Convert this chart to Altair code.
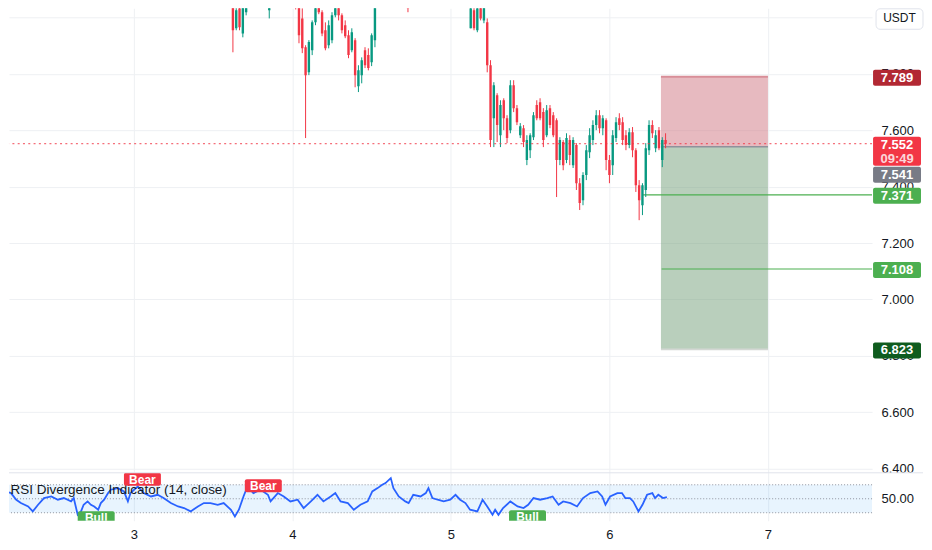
import json
import altair as alt
import pandas as pd

# ---------------- data ----------------
# 30-minute candles, time in hours after the start of day "3"
bar_hour = [15.0, 15.5, 16.0, 16.5, 17.0, 20.0, 20.5, 21.0, 24.5, 25.0, 25.5, 26.0, 26.5, 27.0, 27.5,
            28.0, 28.5, 29.0, 29.5, 30.0, 30.5, 31.0, 31.5, 32.0, 32.5, 33.0, 33.5, 34.0, 34.5, 35.0,
            35.5, 36.0, 36.5, 37.0, 37.5, 41.5, 42.0, 50.5, 51.0, 51.5, 52.0, 52.5, 53.0, 53.5, 54.0,
            54.5, 55.0, 55.5, 56.0, 56.5, 57.0, 57.5, 58.0, 58.5, 59.0, 59.5, 60.0, 60.5, 61.0, 61.5,
            62.0, 62.5, 63.0, 63.5, 64.0, 64.5, 65.0, 65.5, 66.0, 66.5, 67.0, 67.5, 68.0, 68.5, 69.0,
            69.5, 70.0, 70.5, 71.0, 71.5, 72.0, 72.5, 73.0, 73.5, 74.0, 74.5, 75.0, 75.5, 76.0, 76.5,
            77.0, 77.5, 78.0, 78.5, 79.0, 79.5, 80.0, 80.5]
bar_open = [8.096, 7.961, 8.032, 7.943, 8.018, 8.131, 8.025, 8.078, 8.078, 8.050, 7.996, 7.894, 7.805, 7.883, 7.982,
            8.060, 8.018, 7.954, 7.901, 7.919, 8.007, 8.067, 8.007, 7.972, 7.936, 7.883, 7.919, 7.756, 7.795, 7.883,
            7.866, 7.841, 7.919, 8.043, 8.131, 8.096, 8.043, 8.096, 7.961, 8.025, 7.954, 8.050, 7.989, 7.982, 7.830,
            7.642, 7.724, 7.582, 7.706, 7.642, 7.600, 7.759, 7.678, 7.582, 7.607, 7.494, 7.529, 7.575, 7.689, 7.699,
            7.664, 7.582, 7.678, 7.653, 7.635, 7.494, 7.558, 7.494, 7.565, 7.476, 7.547, 7.412, 7.352, 7.441, 7.522,
            7.565, 7.618, 7.653, 7.607, 7.635, 7.494, 7.476, 7.572, 7.642, 7.628, 7.582, 7.547, 7.593, 7.529, 7.405,
            7.334, 7.388, 7.529, 7.618, 7.536, 7.600, 7.494, 7.565]
bar_high = [8.131, 8.060, 8.043, 8.078, 8.113, 8.149, 8.131, 8.166, 8.096, 8.060, 8.032, 7.901, 7.919, 7.989, 8.078,
            8.078, 8.025, 7.982, 7.989, 8.018, 8.096, 8.078, 8.014, 7.989, 7.954, 7.961, 7.926, 7.830, 7.858, 7.894,
            7.890, 7.943, 8.078, 8.149, 8.149, 8.113, 8.131, 8.113, 8.060, 8.043, 8.043, 8.078, 8.071, 7.996, 7.848,
            7.770, 7.731, 7.706, 7.713, 7.653, 7.777, 7.777, 7.689, 7.625, 7.618, 7.582, 7.589, 7.664, 7.706, 7.713,
            7.678, 7.689, 7.689, 7.664, 7.642, 7.575, 7.565, 7.589, 7.582, 7.575, 7.554, 7.430, 7.451, 7.547, 7.607,
            7.635, 7.671, 7.671, 7.653, 7.642, 7.512, 7.600, 7.646, 7.660, 7.646, 7.600, 7.607, 7.611, 7.536, 7.423,
            7.412, 7.554, 7.635, 7.635, 7.600, 7.611, 7.575, 7.589]
bar_low = [7.876, 7.954, 7.954, 7.929, 8.007, 8.043, 7.996, 8.053, 8.028, 7.908, 7.873, 7.572, 7.795, 7.866, 7.972,
           8.011, 7.933, 7.883, 7.890, 7.908, 8.000, 7.989, 7.943, 7.926, 7.855, 7.876, 7.752, 7.735, 7.766, 7.820,
           7.812, 7.827, 7.894, 8.039, 8.043, 8.018, 8.035, 8.035, 7.961, 7.954, 7.947, 7.989, 7.979, 7.805, 7.540,
           7.540, 7.558, 7.540, 7.600, 7.554, 7.589, 7.664, 7.618, 7.572, 7.540, 7.476, 7.501, 7.565, 7.635, 7.635,
           7.540, 7.575, 7.607, 7.575, 7.363, 7.476, 7.458, 7.483, 7.476, 7.466, 7.388, 7.317, 7.334, 7.423, 7.501,
           7.547, 7.600, 7.589, 7.582, 7.458, 7.412, 7.441, 7.558, 7.600, 7.547, 7.529, 7.536, 7.504, 7.381, 7.281,
           7.299, 7.363, 7.512, 7.572, 7.522, 7.529, 7.469, 7.536]
bar_close = [7.954, 8.025, 7.965, 8.060, 8.096, 8.060, 8.113, 8.149, 8.039, 7.936, 7.890, 7.795, 7.912, 7.982, 8.053,
             8.018, 7.943, 7.890, 7.972, 8.007, 8.078, 8.007, 7.954, 7.933, 7.866, 7.947, 7.795, 7.812, 7.848, 7.830,
             7.820, 7.936, 8.053, 8.131, 8.078, 8.032, 8.113, 8.043, 8.032, 7.961, 8.032, 7.996, 8.050, 7.830, 7.565,
             7.759, 7.618, 7.689, 7.642, 7.572, 7.759, 7.678, 7.628, 7.614, 7.558, 7.565, 7.582, 7.653, 7.642, 7.642,
             7.565, 7.671, 7.618, 7.582, 7.494, 7.565, 7.476, 7.572, 7.512, 7.565, 7.412, 7.342, 7.441, 7.529, 7.582,
             7.618, 7.653, 7.607, 7.642, 7.494, 7.441, 7.582, 7.628, 7.618, 7.565, 7.547, 7.593, 7.529, 7.405, 7.352,
             7.405, 7.536, 7.618, 7.589, 7.582, 7.536, 7.565, 7.552]

rsi_hour = [-20.1, -18.6, -17.8, -17.1, -16.0, -15.3, -14.5, -13.6, -12.5, -11.5, -10.6, -9.5, -9.1, -8.5, -8.0,
            -7.6, -7.0, -6.5, -6.0, -5.4, -5.0, -4.5, -3.9, -3.5, -2.4, -1.5, -0.9, -0.5, 0.6, 1.5,
            2.6, 3.6, 4.5, 5.6, 6.7, 7.6, 8.6, 9.7, 10.6, 11.6, 12.7, 13.6, 14.7, 15.3, 15.9,
            16.6, 17.2, 18.1, 19.2, 20.3, 20.7, 21.8, 22.7, 23.7, 24.8, 25.7, 26.8, 27.8, 28.7, 29.8,
            30.5, 31.3, 32.4, 33.3, 34.3, 35.4, 36.1, 36.9, 37.6, 38.1, 38.9, 39.3, 40.1, 41.1, 41.6,
            42.3, 43.4, 44.2, 44.6, 45.2, 46.0, 46.9, 47.9, 48.7, 49.4, 50.2, 50.9, 52.0, 52.8, 53.5,
            54.3, 54.7, 55.2, 55.9, 57.0, 58.1, 59.0, 59.7, 60.5, 61.5, 62.6, 63.4, 64.3, 65.0, 66.1,
            67.1, 68.0, 69.1, 70.2, 70.9, 71.4, 72.1, 73.2, 73.9, 74.4, 75.1, 75.6, 76.4, 77.0, 77.7,
            78.5, 78.9, 79.4, 80.1, 80.7]
rsi_value = [62.9, 58.1, 48.6, 43.8, 39.0, 31.9, 41.4, 51.0, 53.3, 48.6, 51.0, 46.2, 51.0, 27.1, 31.9,
             41.4, 46.2, 41.4, 39.0, 34.3, 43.8, 48.6, 58.1, 62.9, 65.2, 60.5, 46.2, 58.1, 67.6, 58.1,
             53.3, 55.7, 51.0, 43.8, 39.0, 36.7, 31.9, 39.0, 43.8, 43.8, 41.4, 43.8, 34.3, 24.8, 34.3,
             53.3, 67.6, 58.1, 62.9, 55.7, 46.2, 58.1, 53.3, 46.2, 48.6, 36.7, 46.2, 55.7, 46.2, 53.3,
             58.1, 46.2, 43.8, 34.3, 41.4, 46.2, 60.5, 65.2, 70.0, 72.4, 79.5, 65.2, 53.3, 46.2, 43.8,
             55.7, 53.3, 58.1, 65.2, 51.0, 48.6, 46.2, 48.6, 55.7, 48.6, 43.8, 34.3, 31.9, 48.6, 39.0,
             27.1, 34.3, 27.1, 36.7, 46.2, 39.0, 36.7, 41.4, 51.0, 48.6, 51.0, 53.3, 41.4, 46.2, 43.8,
             39.0, 51.0, 58.1, 60.5, 53.3, 41.4, 53.3, 58.1, 58.1, 51.0, 51.0, 46.2, 31.9, 41.4, 55.7,
             58.1, 51.0, 55.7, 51.0, 52.4]

div_hour = [1.3, 19.6, -5.7, 59.6]
div_rsi = [77.9, 68.6, 22.9, 24.3]
div_kind = ["Bear", "Bear", "Bull", "Bull"]

day_ticks = [0, 24, 48, 72, 96]
day_labels = ["3", "4", "5", "6", "7"]
price_ticks = [6.4, 6.6, 6.8, 7.0, 7.2, 7.4, 7.6, 7.8, 8.0]
rsi_ticks = [50]
rsi_levels = [30, 50, 70]
rsi_band = [30, 70]

currency = "USDT"
indicator_title = "RSI Divergence Indicator (14, close)"
last_price = 7.552
countdown = "09:49"
entry_price = 7.541
stop_price = 7.789
target_price = 6.823
tp_price = [7.371, 7.108]
tp_start = [77.1, 79.9]
box_start = 79.8
box_end = 96.0

X_DOM = [-18.9, 111.76]
Y_DOM = [6.3858, 8.0319]
R_DOM = [18.57, 87.14]

# ---------------- styling ----------------
W = 864
H_MAIN = 465
H_RSI = 48
UP = "#089981"
DOWN = "#f23645"
GRID = "#eef0f3"
TXT = "#131722"
FONT = "Liberation Sans"

xs = alt.Scale(domain=X_DOM, nice=False, zero=False)
ys = alt.Scale(domain=Y_DOM, nice=False, zero=False)
rs = alt.Scale(domain=R_DOM, nice=False, zero=False)

X_AX = alt.Axis(values=day_ticks, labels=False, ticks=False, domain=False, grid=True,
                gridColor=GRID, title=None)
label_expr = "%s[round(datum.value/24)]" % json.dumps(day_labels)
X_AX_B = alt.Axis(values=day_ticks, labelExpr=label_expr, grid=True, gridColor=GRID, ticks=False,
                  domain=False, labelPadding=8, title=None, labelFontSize=13, labelColor=TXT,
                  labelFont=FONT)
Y_AX = alt.Axis(orient="right", values=price_ticks, format=".3f", grid=True, gridColor=GRID,
                ticks=False, domain=False, labelPadding=9, labelAlign="left", title=None,
                labelFontSize=13, labelColor=TXT, labelFont=FONT)
R_AX = alt.Axis(orient="right", values=rsi_ticks, format=".2f", grid=False, ticks=False,
                domain=False, labelPadding=9, labelAlign="left", title=None,
                labelFontSize=13, labelColor=TXT, labelFont=FONT)


def X(f):
    return alt.X(f, scale=xs, axis=X_AX)


def Y(f):
    return alt.Y(f, scale=ys, axis=Y_AX)


# ---------------- main price pane ----------------
bars = pd.DataFrame({"hour": bar_hour, "open": bar_open, "high": bar_high,
                     "low": bar_low, "close": bar_close})
up_bars = bars[bars["close"] >= bars["open"]]
dn_bars = bars[bars["close"] < bars["open"]]

stop_zone = pd.DataFrame({"x0": [box_start], "x1": [box_end], "lo": [entry_price], "hi": [stop_price]})
profit_zone = pd.DataFrame({"x0": [box_start], "x1": [box_end], "lo": [target_price], "hi": [entry_price]})
stop_layer = alt.Chart(stop_zone).mark_rect(color="#cf7581", opacity=0.5, clip=True).encode(
    x=X("x0:Q"), x2="x1:Q", y=Y("lo:Q"), y2="hi:Q")
profit_layer = alt.Chart(profit_zone).mark_rect(color="#739f79", opacity=0.5, clip=True).encode(
    x=X("x0:Q"), x2="x1:Q", y=Y("lo:Q"), y2="hi:Q")


def edge(price, color, width):
    d = pd.DataFrame({"x0": [box_start], "x1": [box_end], "p": [price]})
    return alt.Chart(d).mark_rule(color=color, strokeWidth=width, clip=True).encode(
        x=X("x0:Q"), x2="x1:Q", y=Y("p:Q"))


edges = [edge(stop_price, "#d88e98", 2), edge(entry_price, "#8f929b", 1.6),
         edge(target_price, "#d3d7d3", 1.6)]

tps = pd.DataFrame({"x0": tp_start, "x1": [X_DOM[1]] * len(tp_start), "p": tp_price})
tp_layer = alt.Chart(tps).mark_rule(color="#4caf50", strokeWidth=1.2, clip=True).encode(
    x=X("x0:Q"), x2="x1:Q", y=Y("p:Q"))


def candles(df, color):
    w = alt.Chart(df).mark_rule(color=color, strokeWidth=1, clip=True).encode(
        x=X("hour:Q"), y=Y("low:Q"), y2="high:Q")
    b = alt.Chart(df).mark_rule(color=color, strokeWidth=2.4, clip=True).encode(
        x=X("hour:Q"), y=Y("open:Q"), y2="close:Q")
    return [w, b]


last_df = pd.DataFrame({"p": [last_price]})
last_line = alt.Chart(last_df).mark_rule(color=DOWN, strokeWidth=1, strokeDash=[2, 3.3],
                                         opacity=0.9).encode(y=Y("p:Q"))


def tag(price, text, bg, top, bot, dy=1, opacity=1.0):
    d = pd.DataFrame({"p": [price], "t": [text]})
    layers = []
    if bg is not None:
        layers.append(alt.Chart(d).mark_rect(color=bg, cornerRadius=2, yOffset=top,
                                             y2Offset=bot).encode(
            x=alt.value(865), x2=alt.value(913), y=Y("p:Q"), y2="p:Q"))
    layers.append(alt.Chart(d).mark_text(color="white", font=FONT, fontSize=13,
                                         fontWeight="bold", dy=dy, opacity=opacity).encode(
        x=alt.value(889), y=Y("p:Q"), text="t:N"))
    return layers


tags = []
tags += tag(stop_price, "%.3f" % stop_price, "#b22833", -7, 9)
tags += tag(last_price, "%.3f" % last_price, DOWN, -7, 22)
tags += tag(last_price, countdown, None, 0, 0, dy=15, opacity=0.8)
tags += tag(entry_price, "%.3f" % entry_price, "#787b86", 20, 36, dy=28)
tags += tag(tp_price[0], "%.3f" % tp_price[0], "#4caf50", -7, 9)
tags += tag(tp_price[1], "%.3f" % tp_price[1], "#4caf50", -7, 9)
tags += tag(target_price, "%.3f" % target_price, "#0f5c1e", -7, 9)

cur_df = pd.DataFrame({"t": [currency]})
cur_box = alt.Chart(cur_df).mark_rect(fill="white", stroke="#e0e3eb", strokeWidth=1,
                                      cornerRadius=4).encode(
    x=alt.value(868), x2=alt.value(915), y=alt.value(0.5), y2=alt.value(21))
cur_txt = alt.Chart(cur_df).mark_text(font=FONT, fontSize=12, color=TXT).encode(
    x=alt.value(891.5), y=alt.value(10), text="t:N")

main = alt.layer(stop_layer, profit_layer, *edges, tp_layer,
                 *candles(up_bars, UP), *candles(dn_bars, DOWN),
                 last_line, *tags, cur_box, cur_txt).properties(width=W, height=H_MAIN)


# ---------------- RSI pane ----------------
def XR(f):
    return alt.X(f, scale=xs, axis=X_AX_B)


def YR(f):
    return alt.Y(f, scale=rs, axis=R_AX)


band = alt.Chart(pd.DataFrame({"x0": [X_DOM[0]], "x1": [X_DOM[1]],
                               "lo": [rsi_band[0]], "hi": [rsi_band[1]]})).mark_rect(
    color="#2196f3", opacity=0.1, clip=True).encode(x=XR("x0:Q"), x2="x1:Q", y=YR("lo:Q"), y2="hi:Q")
levels = alt.Chart(pd.DataFrame({"v": rsi_levels})).mark_rule(
    color="#787b86", strokeDash=[1, 2], strokeWidth=1, opacity=0.8).encode(y=YR("v:Q"))
rsi_df = pd.DataFrame({"hour": rsi_hour, "rsi": rsi_value})
rsi_line = alt.Chart(rsi_df).mark_line(color="#2962ff", strokeWidth=1.8, clip=True).encode(
    x=XR("hour:Q"), y=YR("rsi:Q"))
title = alt.Chart(pd.DataFrame({"t": [indicator_title]})).mark_text(
    font=FONT, fontSize=13.5, color=TXT, align="left", baseline="middle").encode(
    x=alt.value(1.5), y=alt.value(17.5), text="t:N")

div_df = pd.DataFrame({"hour": div_hour, "rsi": div_rsi, "kind": div_kind})


def div_layers(kind, color):
    d = div_df[div_df["kind"] == kind]
    r = alt.Chart(d).mark_rect(color=color, cornerRadius=2, clip=True, xOffset=-18.5,
                               x2Offset=18.5, yOffset=-6.5, y2Offset=6.5).encode(
        x=XR("hour:Q"), x2="hour:Q", y=YR("rsi:Q"), y2="rsi:Q")
    t = alt.Chart(d).mark_text(color="white", font=FONT, fontSize=12, fontWeight="bold",
                               clip=True, dy=0.5).encode(
        x=XR("hour:Q"), y=YR("rsi:Q"), text="kind:N")
    return [r, t]


sep = alt.Chart(pd.DataFrame({"a": [0]})).mark_rule(color="#e0e3eb", strokeWidth=1).encode(
    x=alt.value(0), x2=alt.value(915), y=alt.value(0))

rsi = alt.layer(band, levels, rsi_line, title, *div_layers("Bear", "#f23645"),
                *div_layers("Bull", "#4caf50"), sep).properties(width=W, height=H_RSI)

chart = alt.vconcat(main, rsi, spacing=0, bounds="flush", padding=0).configure_view(stroke=None)

chart.save("out.html", embed_options={"renderer": "svg", "actions": False})
